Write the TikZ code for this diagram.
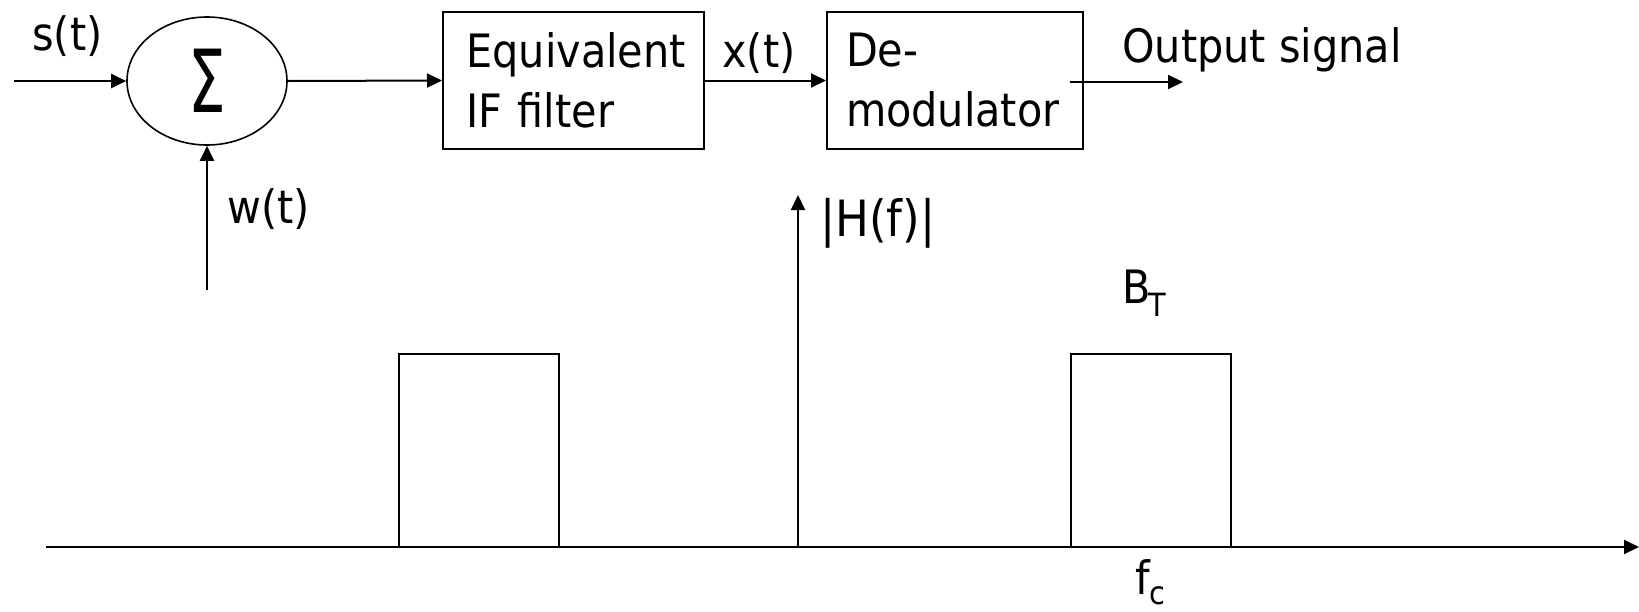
\documentclass[tikz,border=0pt]{standalone}
\usepackage{fontspec}
\usepackage{graphicx}
\setmainfont{DejaVu Sans Condensed}
\usetikzlibrary{arrows.meta,shapes.geometric}
\tikzset{
  lbl/.style={inner sep=0pt, anchor=base west, font=\fontsize{23}{30}\selectfont},
  blk/.style={draw, line width=1pt, minimum height=68.5pt, align=left, inner ysep=0pt,
    font=\fontsize{23}{30}\selectfont},
  conn/.style={line width=1pt, -{Triangle[length=7.5pt,width=7pt]}},
  plain/.style={line width=1pt}
}
\begin{document}
\begin{tikzpicture}[x=0.5pt,y=-0.5pt]
\useasboundingbox (0,0) rectangle (1639,611);
% blocks
\node[draw, line width=0.8pt, ellipse, minimum width=80pt, minimum height=64pt, inner sep=0pt,
  font=\fontsize{30}{30}\selectfont] (sum) at (207,81) {\raisebox{-3pt}{\scalebox{1.1}[1.45]{Σ}}};
\node[blk, text width=107pt, inner xsep=11.75pt] (ifb) at (573.5,80.5) {Equivalent\\IF filter};
\node[blk, text width=109pt, inner xsep=9.5pt] (dem) at (955,80.5) {De-\\modulator};
% free ends
\coordinate (sin) at (14,81);
\coordinate (win) at (207,290);
\coordinate (dout) at (1070,82);
\coordinate (oend) at (1183,82);
% connectors
\draw[conn] (sin) -- (sum.west);
\draw[conn] (win) -- (sum.south);
\draw[conn] (sum.east) -- (ifb.west);
\draw[conn] (ifb.east) -- (dem.west);
\draw[conn] (dout) -- (oend);
% labels
\node[lbl] (ls) at (32,50) {s(t)};
\node[lbl] (lw) at (227,223) {w(t)};
\node[lbl] (lx) at (722,67) {x(t)};
\node[lbl] (lo) at (1122,62) {Output signal};
% spectrum
\coordinate (ax0) at (46,547);
\coordinate (ax1) at (1639,547);
\coordinate (hy0) at (798,547);
\coordinate (hy1) at (798,195);
\draw[conn] (ax0) -- (ax1);
\draw[conn] (hy0) -- (hy1);
\draw[plain] (399,547) rectangle (559,354);
\draw[plain] (1071,547) rectangle (1231,354);
\node[lbl, font=\fontsize{25}{30}\selectfont] (lh) at (820,236) {|H(f)|};
\node[lbl] (lb) at (1122,303) {B\kern-1pt\raisebox{-6.5pt}{\fontsize{16}{16}\selectfont T}};
\node[lbl] (lf) at (1135,594) {f\raisebox{-5pt}{\fontsize{16}{16}\selectfont c}};
\end{tikzpicture}
\end{document}
